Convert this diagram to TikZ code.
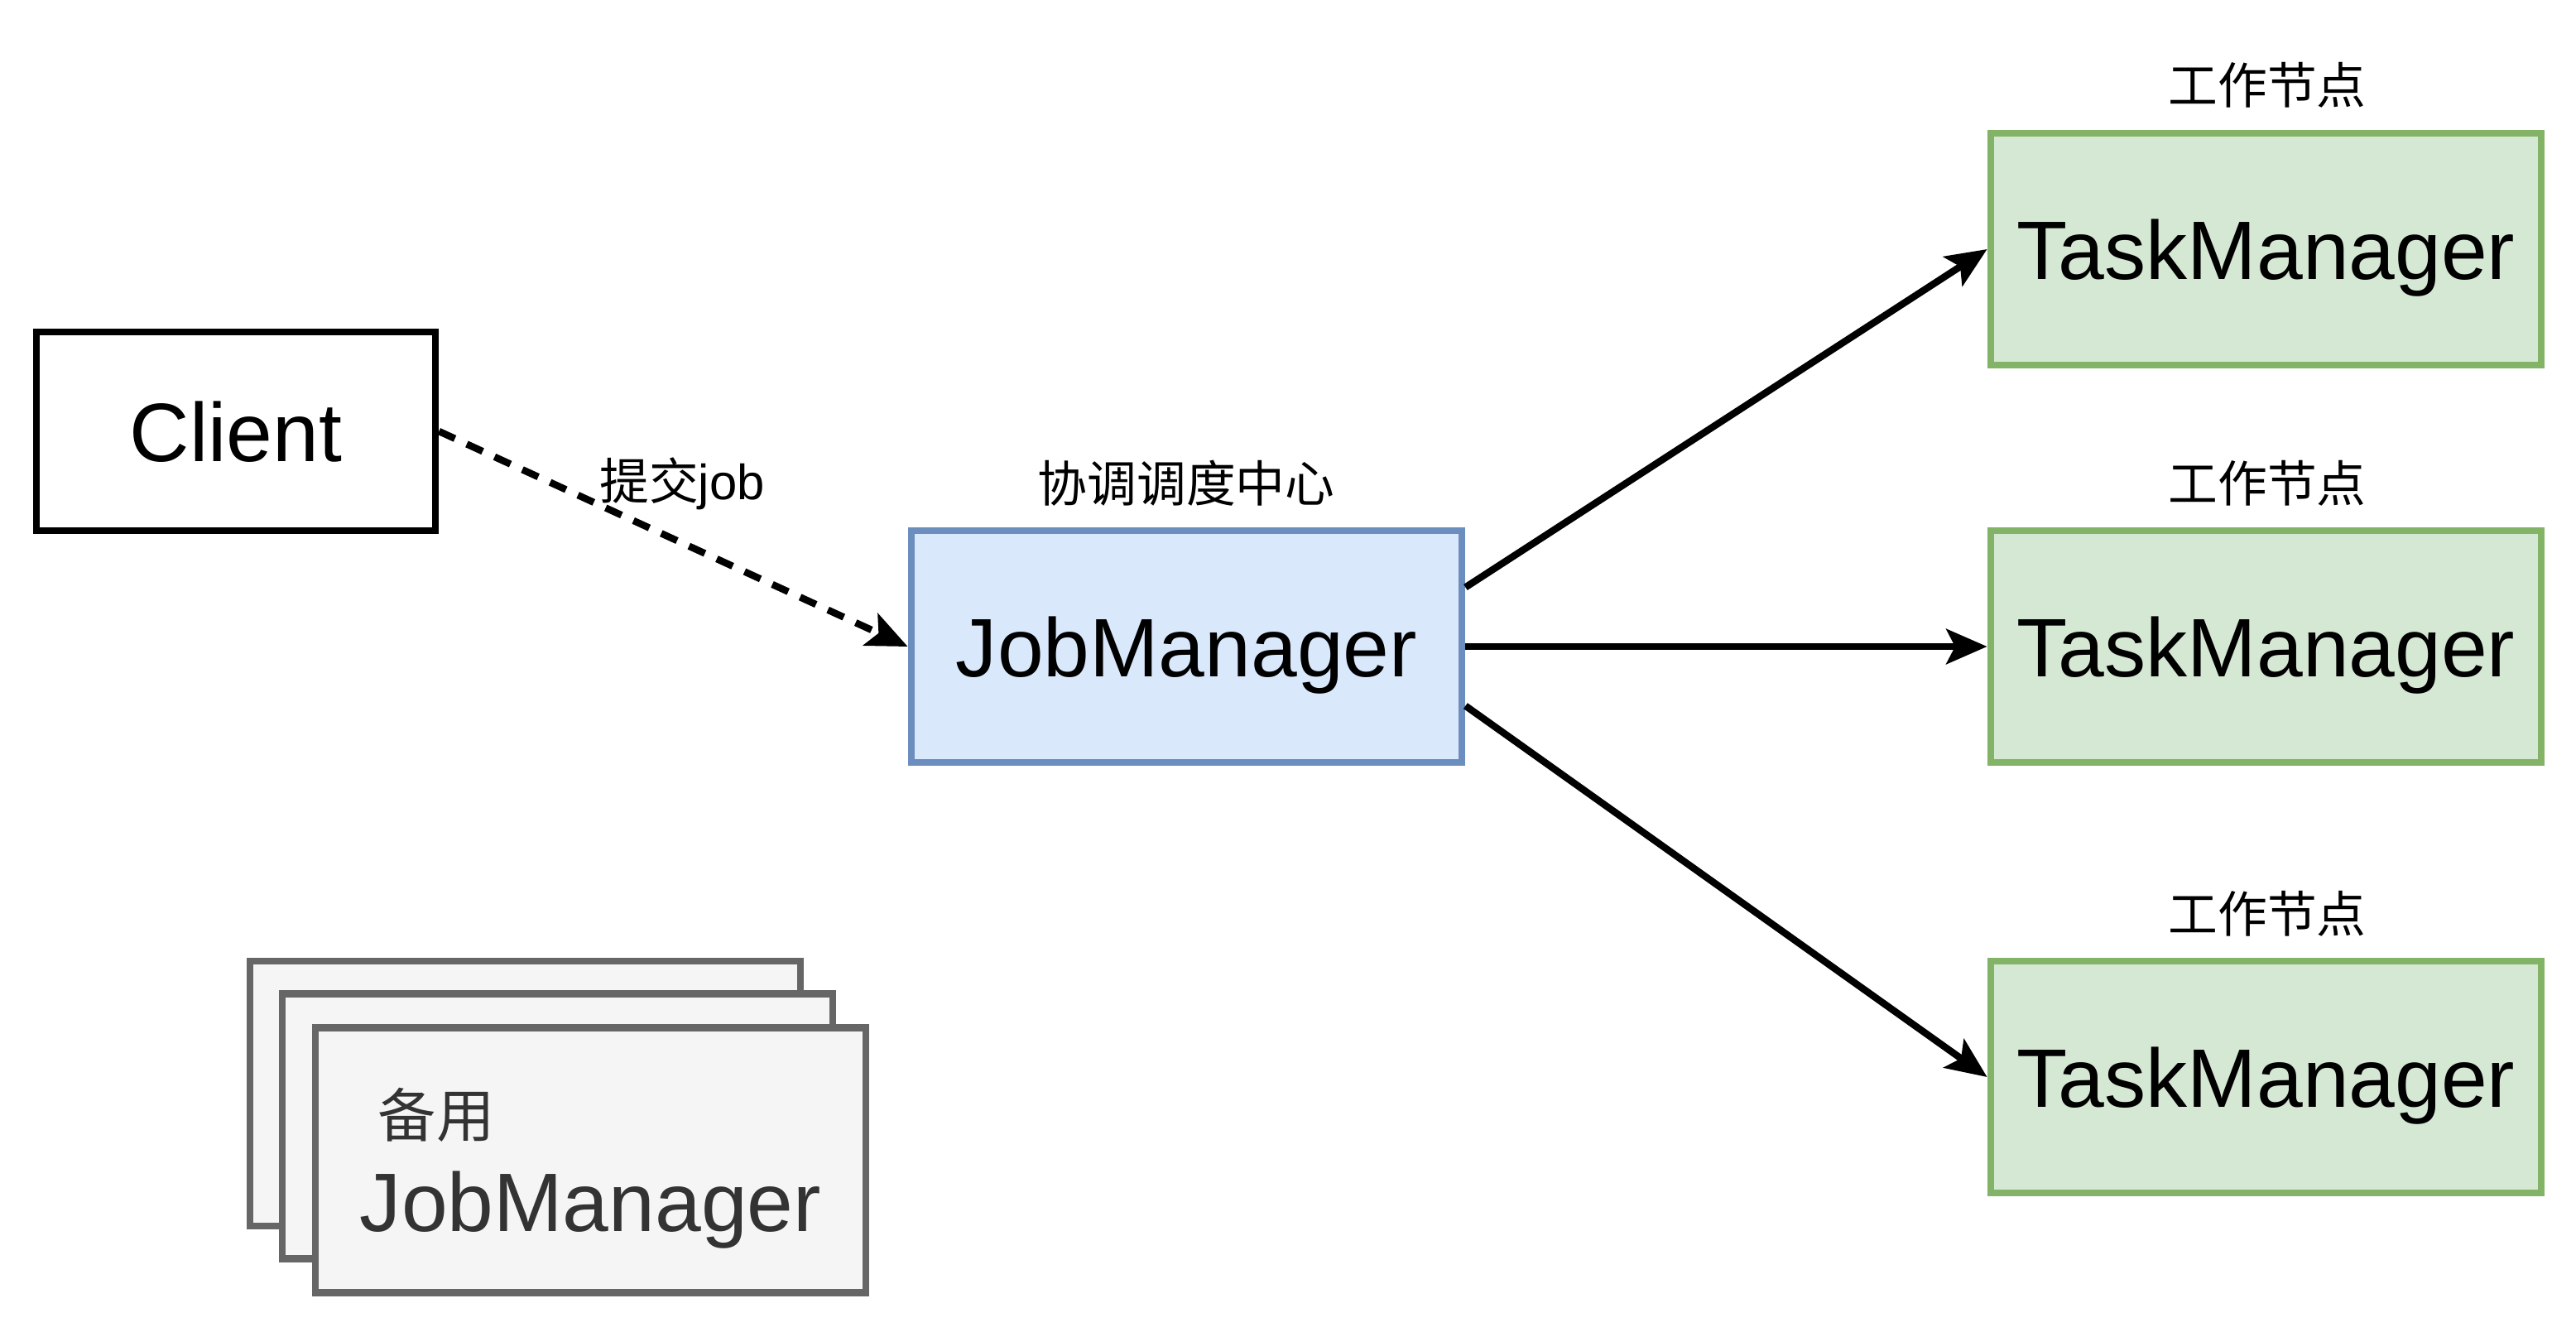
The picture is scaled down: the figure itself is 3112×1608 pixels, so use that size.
\documentclass[tikz,border=0pt]{standalone}
\usepackage{fontspec}
\setmainfont{Liberation Sans}
\newfontfamily\cjk{Noto Sans CJK SC}
\usetikzlibrary{arrows.meta}
\definecolor{jmfill}{HTML}{DAE8FC}
\definecolor{jmline}{HTML}{6C8EBF}
\definecolor{tmfill}{HTML}{D5E8D4}
\definecolor{tmline}{HTML}{82B366}
\definecolor{bkfill}{HTML}{F5F5F5}
\definecolor{bkline}{HTML}{666666}
\definecolor{bktext}{HTML}{333333}
\tikzstyle{box}=[rectangle, draw, line width=2.4pt, font=\fontsize{28.5}{34}\selectfont, text height=23pt, text depth=2pt]
\tikzstyle{client}=[box, minimum width=4.82cm, minimum height=2.4cm]
\tikzstyle{master}=[box, draw=jmline, fill=jmfill, minimum width=6.65cm, minimum height=2.8cm]
\tikzstyle{worker}=[box, draw=tmline, fill=tmfill, minimum width=6.65cm, minimum height=2.8cm]
\tikzstyle{standby}=[rectangle, draw=bkline, fill=bkfill, line width=2.4pt, minimum width=6.65cm, minimum height=3.2cm]
\tikzstyle{caption}=[font=\cjk\fontsize{17}{20}\selectfont]
\tikzstyle{link}=[line width=2.4pt, -{Stealth[length=14pt, width=12pt, inset=3pt]}]

\begin{document}
\begin{tikzpicture}[x=0.01cm, y=-0.01cm]
                    \useasboundingbox (0,0) rectangle (3112,1608);
                    \node[client] (client) at (285,   521)  {Client};
                    \node[master] (jm)     at (1433.5, 781) {JobManager};
                    \node[worker] (tm1)    at (2737.5, 301) {TaskManager};
                    \node[worker] (tm2)    at (2737.5, 781) {TaskManager};
                    \node[worker] (tm3)    at (2737.5, 1301) {TaskManager};
                    \node[standby] (bk1)   at (634.5, 1321)   {};
                    \node[standby] (bk2)   at (673.5, 1360.5) {};
                    \node[standby] (bk3)   at (713.5, 1401.5) {};
                    \node[align=left, text=bktext, font=\fontsize{28.5}{32.5}\selectfont] (bktext)
                        at ([yshift=-0.1cm]bk3.center)
                        {\hspace*{0.22cm}{\cjk\fontsize{20}{24}\selectfont 备用}\\JobManager};
                    \node[caption] (w1)     at (2739, 103)  {工作节点};
                    \node[caption] (w2)     at (2739, 584)  {工作节点};
                    \node[caption] (w3)     at (2739, 1104) {工作节点};
                    \node[caption] (center) at (1433, 584)  {协调调度中心};
                    \node[caption] (submit) at (824,  584)  {提交{\rmfamily job}};
                    \draw[link, dash pattern=on 6pt off 4.5pt] (client.east) -- (jm.west);
                    \draw[link] (jm.12)   -- (tm1.west);
                    \draw[link] (jm.east) -- (tm2.west);
                    \draw[link] (jm.-12)  -- (tm3.west);
                \end{tikzpicture}
\end{document}
